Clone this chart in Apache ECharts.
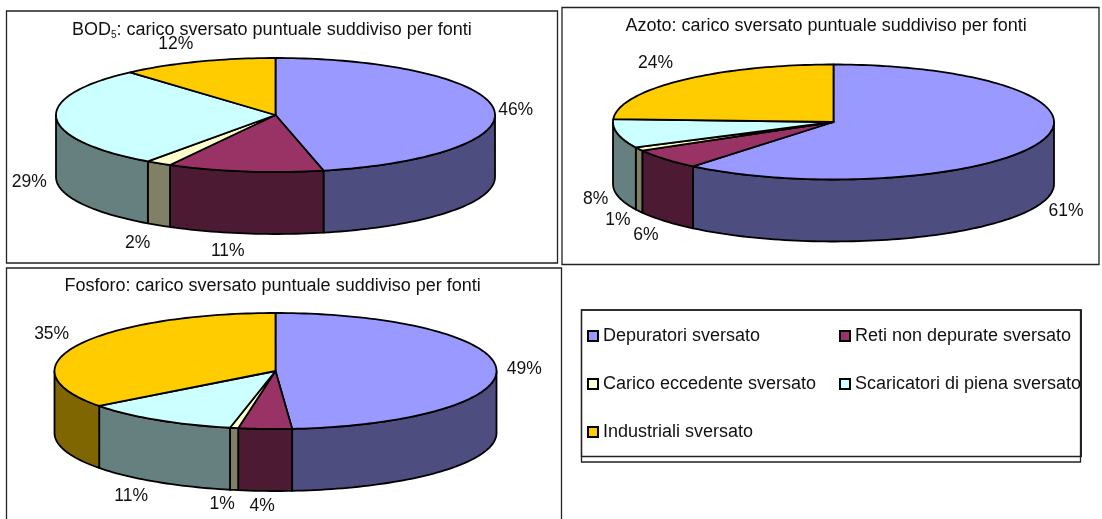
<!DOCTYPE html>
<html><head><meta charset="utf-8">
<style>html,body{margin:0;padding:0;background:#fff}#c{width:1102px;height:519px}</style>
<script src="https://cdn.jsdelivr.net/npm/echarts@6/dist/echarts.min.js"></script>
</head><body><div id="c"></div>
<script>
// --- data: one value per pie (BOD5, Azoto, Fosforo), in per cent
const pieTitles = [
  '{n|BOD}{s|5}{n|: carico sversato puntuale suddiviso per fonti}',
  'Azoto: carico sversato puntuale suddiviso per fonti',
  'Fosforo: carico sversato puntuale suddiviso per fonti'
];
const categories = ['Depuratori sversato','Reti non depurate sversato','Carico eccedente sversato','Scaricatori di piena sversato','Industriali sversato'];
const depuratori  = [46.49, 61.0, 48.8];
const retiNonDep  = [11.49,  5.7,  3.9];
const caricoEcc   = [ 1.9,   1.0,  0.6];
const scaricatori = [28.6,   8.1, 11.4];
const industriali = [11.52, 24.2, 35.3];
const seriesValues = [depuratori, retiNonDep, caricoEcc, scaricatori, industriali];

// --- style and layout
const topColors  = ['#9999FF','#993366','#FFFFCC','#CCFFFF','#FFCC00'];
const wallColors = ['#4D4D80','#4D1A33','#808066','#668080','#806600'];
const pieLayout = [
  {cx:275.5, cy:115, rx:219.5, ry:57,   depth:62},
  {cx:833.5, cy:122, rx:220.5, ry:57.5, depth:62},
  {cx:275.5, cy:371, rx:221,   ry:58,   depth:62}
];
// label offset from the slice's rim mid-point: [pie][category]
const labelNudge = [
  [[22,1],[-17,18],[-21,18],[-27,2],[-22,-18]],
  [[25,8],[-19,14],[-21,9],[-22,4],[-26,-17]],
  [[28,0],[-3,15],[-12,14],[-26,14],[-26,-11]]
];
const FONT = '"Liberation Sans", Arial, sans-serif';
const LABEL_SIZE = 17.5;
const TEXT_SIZE = 18;

function cumBefore(pie, cat){
  let s = 0;
  for (let i = 0; i < cat; i++) s += seriesValues[i][pie];
  return s;
}
function rimPoint(L, deg, drop){
  const t = deg * Math.PI / 180;
  return [L.cx + L.rx * Math.sin(t), L.cy - L.ry * Math.cos(t) + drop];
}
function arcPoints(L, a0, a1, drop){
  const n = Math.max(2, Math.ceil(Math.abs(a1 - a0) / 1.5));
  const pts = [];
  for (let i = 0; i <= n; i++) pts.push(rimPoint(L, a0 + (a1 - a0) * i / n, drop));
  return pts;
}
function renderSlice(params, api){
  const pie = api.value(0), value = api.value(1), cat = params.seriesIndex;
  const L = pieLayout[pie];
  const a0 = cumBefore(pie, cat) * 3.6, a1 = a0 + value * 3.6;
  const children = [];
  const stroke = {stroke:'#000', lineWidth:1.8, lineJoin:'round'};
  const w0 = Math.max(a0, 90), w1 = Math.min(a1, 270);
  if (w1 > w0) {
    const pts = arcPoints(L, w0, w1, 0).concat(arcPoints(L, w1, w0, L.depth));
    children.push({type:'polygon', shape:{points:pts}, style:Object.assign({fill:wallColors[cat]}, stroke)});
  }
  const top = [[L.cx, L.cy]].concat(arcPoints(L, a0, a1, 0));
  children.push({type:'polygon', shape:{points:top}, style:Object.assign({fill:topColors[cat]}, stroke)});
  const mid = (a0 + a1) / 2;
  const front = Math.cos(mid * Math.PI / 180) < 0;
  const p = rimPoint(L, mid, front ? L.depth : 0);
  const nudge = labelNudge[pie][cat];
  children.push({type:'text', z2:10, style:{
    text: Math.round(value) + '%', x:p[0] + nudge[0], y:p[1] + nudge[1],
    align:'center', verticalAlign:'middle', fontFamily:FONT, fontSize:LABEL_SIZE, fill:'#111'
  }});
  return {type:'group', children};
}

const frame = (x, y, w, h, lw) => ({type:'rect', silent:true, z:0,
  shape:{x, y, width:w, height:h}, style:{fill:'none', stroke:'#222', lineWidth:lw || 1.3}});

const titleRich = {
  n:{fontFamily:FONT, fontSize:TEXT_SIZE, fontWeight:'normal', color:'#111', lineHeight:20},
  s:{fontFamily:FONT, fontSize:10, fontWeight:'normal', color:'#111', lineHeight:10, verticalAlign:'bottom', padding:[9,0,0,0]}
};
const plainTitle = {fontFamily:FONT, fontSize:TEXT_SIZE, fontWeight:'normal', color:'#111'};
const legendBase = {orient:'vertical', itemWidth:10, itemHeight:10, selectedMode:false, icon:'rect',
  textStyle:{fontFamily:FONT, fontSize:TEXT_SIZE, color:'#111', padding:[0,0,0,0]}};
const chart = echarts.init(document.getElementById('c'), null, {renderer:'canvas'});
chart.setOption({
  animation:false,
  backgroundColor:'#fff',
  title:[
    {text:pieTitles[0], left:72,  top:20, padding:0, textStyle:{fontWeight:'normal', rich:titleRich}},
    {text:pieTitles[1], left:625.5, top:17, padding:0, textStyle:plainTitle},
    {text:pieTitles[2], left:64.5,  top:277,padding:0, textStyle:plainTitle}
  ],
  legend:[
    Object.assign({show:true, data:[categories[0],categories[2],categories[4]], left:587, top:327, padding:0, itemGap:30}, legendBase),
    Object.assign({show:true, data:[categories[1],categories[3]], left:839, top:327, padding:0, itemGap:30}, legendBase)
  ],
  graphic:[
    frame(6.5,11,551,252), frame(562,7.5,537,257), frame(6.5,268,555,260),
    frame(581.5,310,500,146.5), frame(581.5,310,499,152),
    {type:'rect', silent:true, z:100, shape:{x:1082, y:300, width:19, height:170}, style:{fill:'#fff'}}
  ],
  series: categories.map((name, i) => ({
    type:'custom', name, coordinateSystem:'none',
    itemStyle:{color:topColors[i], borderColor:'#000', borderWidth:1.2},
    data: seriesValues[i].map((v, pie) => [pie, v]),
    renderItem: renderSlice
  }))
});
</script></body></html>
